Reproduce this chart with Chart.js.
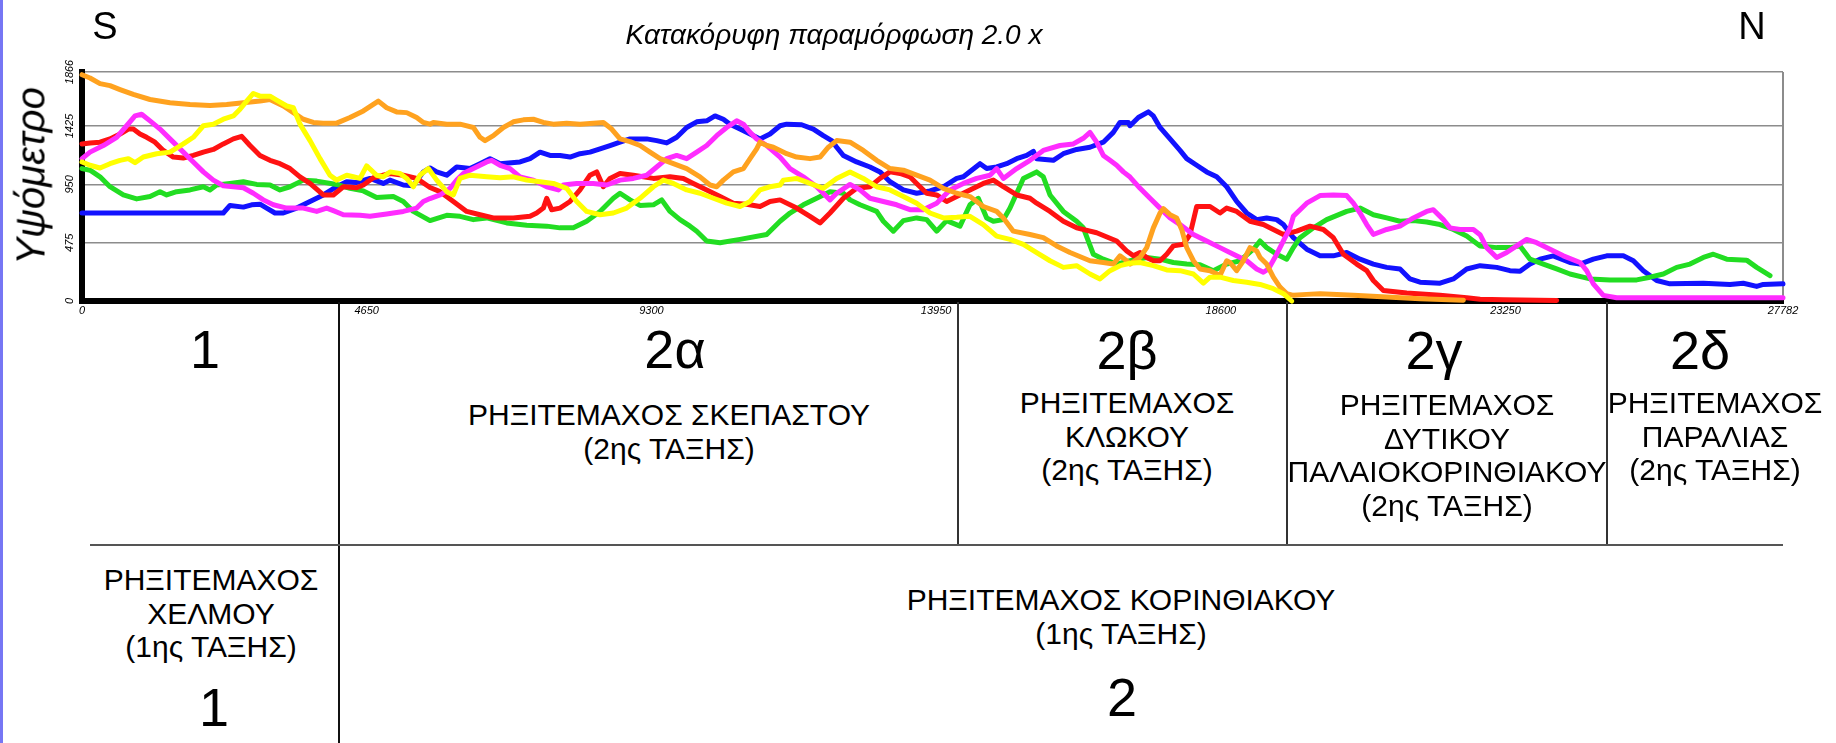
<!DOCTYPE html>
<html>
<head>
<meta charset="utf-8">
<script src="https://cdn.jsdelivr.net/npm/chart.js@4.4.1/dist/chart.umd.min.js"></script>
<style>
  body { margin: 0; background: #fff; width: 1836px; height: 743px; overflow: hidden; position: relative; font-family: "Liberation Sans Narrow", "Liberation Sans", sans-serif; color: #000; }
  #profil { position: absolute; left: 0; top: 0; }
  .txt { position: absolute; white-space: nowrap; text-align: center; transform: translateX(-50%); font-size: 30px; line-height: 33.5px; }
  .big { position: absolute; white-space: nowrap; transform: translate(-50%, -50%); font-size: 54px; line-height: 54px; }
  .linha { position: absolute; background: #333; }
</style>
</head>
<body>
<div style="position:absolute;left:0;top:0;width:3px;height:743px;background:#7676f4"></div>
<canvas id="profil" width="1836" height="330"></canvas>

<div style="position:absolute;left:105px;top:26px;transform:translate(-50%,-50%);font:38px 'Liberation Sans',sans-serif">S</div>
<div style="position:absolute;left:1752px;top:26px;transform:translate(-50%,-50%);font:38px 'Liberation Sans',sans-serif">N</div>
<div style="position:absolute;left:834px;top:35px;transform:translate(-50%,-50%);font:italic 28px 'Liberation Sans',sans-serif;white-space:nowrap">Κατακόρυφη παραμόρφωση 2.0 x</div>
<div style="position:absolute;left:31px;top:176px;transform:translate(-50%,-50%) rotate(-90deg);font:italic 40px 'Liberation Sans',sans-serif;white-space:nowrap">Υψόμετρο</div>

<!-- πίνακας ρηξιτεμαχών -->
<div class="linha" style="left:338px;top:302px;width:2px;height:441px;background:#111"></div>
<div class="linha" style="left:957px;top:302px;width:1.5px;height:243px"></div>
<div class="linha" style="left:1286px;top:302px;width:1.5px;height:243px"></div>
<div class="linha" style="left:1606px;top:302px;width:1.5px;height:243px"></div>
<div class="linha" style="left:90px;top:544px;width:1693px;height:2px;background:#555"></div>

<div class="big" style="left:205px;top:349px">1</div>
<div class="big" style="left:675px;top:349px">2α</div>
<div class="big" style="left:1127px;top:350px">2β</div>
<div class="big" style="left:1434px;top:350px">2γ</div>
<div class="big" style="left:1700px;top:350px">2δ</div>

<div class="txt" style="left:669px;top:398px">ΡΗΞΙΤΕΜΑΧΟΣ ΣΚΕΠΑΣΤΟΥ<br>(2ης ΤΑΞΗΣ)</div>
<div class="txt" style="left:1127px;top:386px">ΡΗΞΙΤΕΜΑΧΟΣ<br>ΚΛΩΚΟΥ<br>(2ης ΤΑΞΗΣ)</div>
<div class="txt" style="left:1447px;top:388px">ΡΗΞΙΤΕΜΑΧΟΣ<br>ΔΥΤΙΚΟΥ<br>ΠΑΛΑΙΟΚΟΡΙΝΘΙΑΚΟΥ<br>(2ης ΤΑΞΗΣ)</div>
<div class="txt" style="left:1715px;top:386px">ΡΗΞΙΤΕΜΑΧΟΣ<br>ΠΑΡΑΛΙΑΣ<br>(2ης ΤΑΞΗΣ)</div>

<div class="txt" style="left:211px;top:563px">ΡΗΞΙΤΕΜΑΧΟΣ<br>ΧΕΛΜΟΥ<br>(1ης ΤΑΞΗΣ)</div>
<div class="big" style="left:214px;top:707px">1</div>
<div class="txt" style="left:1121px;top:583px">ΡΗΞΙΤΕΜΑΧΟΣ ΚΟΡΙΝΘΙΑΚΟΥ<br>(1ης ΤΑΞΗΣ)</div>
<div class="big" style="left:1122px;top:697px">2</div>

<script>
// αποστάσεις (m) και υψόμετρα (m) κάθε τομής
var xTickValues = [0, 4650, 9300, 13950, 18600, 23250, 27782];
var yTickValues = [0, 475, 950, 1425, 1866];

var tomiBlue = [[0,717],[2308,717],[2417,779],[2635,765],[2771,784],[2907,789],[3016,757],[3152,717],[3288,717],[3506,757],[3724,811],[3941,864],[4159,931],[4323,972],[4486,966],[4704,999],[4921,958],[5030,985],[5248,945],[5411,939],[5575,1052],[5684,1084],[5793,1052],[5957,1025],[6120,1092],[6338,1079],[6501,1119],[6664,1160],[6828,1119],[7154,1133],[7318,1160],[7481,1213],[7644,1186],[7807,1186],[7971,1173],[8134,1200],[8297,1213],[8461,1240],[8624,1267],[8787,1294],[8951,1321],[9223,1321],[9386,1307],[9550,1288],[9713,1334],[9876,1414],[10040,1460],[10203,1468],[10339,1508],[10475,1481],[10584,1441],[10747,1401],[10911,1361],[11074,1321],[11237,1361],[11401,1428],[11509,1441],[11754,1436],[11945,1401],[12108,1347],[12244,1307],[12326,1253],[12435,1186],[12652,1133],[12870,1092],[13034,1052],[13197,972],[13415,905],[13632,878],[13850,897],[14068,931],[14286,999],[14395,1012],[14667,1119],[14776,1079],[14939,1092],[15102,1119],[15266,1160],[15429,1186],[15538,1219],[15592,1160],[15864,1146],[16028,1200],[16245,1235],[16463,1253],[16681,1294],[16844,1374],[16953,1455],[17089,1455],[17117,1428],[17253,1495],[17417,1541],[17498,1508],[17607,1414],[17771,1321],[17934,1227],[18043,1160],[18206,1106],[18369,1052],[18533,1012],[18696,931],[18859,811],[19023,717],[19186,663],[19349,677],[19513,663],[19622,623],[19785,516],[20003,422],[20220,368],[20438,368],[20656,395],[20874,341],[21091,301],[21309,274],[21527,261],[21690,180],[21854,153],[22180,145],[22398,180],[22616,261],[22834,288],[23106,274],[23323,247],[23487,242],[23650,301],[23813,341],[24031,368],[24303,314],[24467,301],[24684,341],[24902,368],[25174,368],[25338,328],[25501,247],[25719,167],[25936,140],[26481,145],[26916,135],[27134,145],[27352,119],[27461,135],[27782,140]];

var tomiGreen = [[0,1079],[131,1066],[294,1012],[457,931],[675,864],[893,832],[1111,851],[1274,891],[1383,864],[1546,891],[1764,905],[1982,931],[2090,905],[2199,945],[2417,958],[2635,972],[2853,950],[3070,945],[3234,905],[3397,931],[3615,985],[3833,977],[4159,950],[4377,918],[4595,897],[4812,843],[5085,851],[5248,811],[5411,730],[5684,655],[5957,698],[6174,690],[6392,663],[6610,677],[6936,636],[7263,618],[7590,610],[7807,596],[8025,596],[8243,650],[8461,730],[8678,837],[8787,878],[8951,824],[9114,779],[9332,784],[9468,824],[9604,730],[9767,663],[9931,610],[10040,569],[10203,489],[10421,475],[10747,502],[11183,542],[11401,650],[11564,717],[11781,784],[11999,837],[12217,891],[12435,878],[12544,824],[12707,784],[12979,730],[13088,650],[13251,569],[13415,655],[13632,677],[13796,663],[13959,569],[14122,655],[14340,610],[14503,784],[14639,837],[14776,677],[14885,650],[15048,663],[15157,757],[15375,999],[15592,1052],[15701,1012],[15810,864],[16028,730],[16245,650],[16354,596],[16518,381],[16681,341],[16899,301],[17117,328],[17390,355],[17607,341],[17825,314],[18043,301],[18261,296],[18478,247],[18696,301],[18914,328],[19132,422],[19240,489],[19349,435],[19513,381],[19676,341],[19785,435],[19894,516],[20112,596],[20329,663],[20656,730],[20874,757],[21091,703],[21309,677],[21527,650],[21745,655],[21962,644],[22180,623],[22398,583],[22616,529],[22834,449],[23106,435],[23323,435],[23487,449],[23650,341],[23868,301],[24085,261],[24303,220],[24630,180],[24956,172],[25392,172],[25610,194],[25828,220],[26045,274],[26263,301],[26481,355],[26644,381],[26862,341],[27188,333],[27352,274],[27570,207]];

var tomiRed = [[0,1280],[131,1288],[294,1294],[457,1321],[621,1361],[757,1401],[838,1401],[947,1361],[1056,1334],[1192,1294],[1328,1227],[1492,1173],[1655,1165],[1818,1186],[1982,1213],[2145,1235],[2308,1280],[2472,1321],[2608,1342],[2744,1267],[2907,1186],[3070,1146],[3234,1119],[3397,1079],[3560,1012],[3724,958],[3941,864],[4105,864],[4268,931],[4486,923],[4595,945],[4758,1004],[5030,1039],[5248,1025],[5466,999],[5684,925],[5848,891],[6065,811],[6283,730],[6501,703],[6719,677],[7045,677],[7318,690],[7426,717],[7535,757],[7590,837],[7671,744],[7807,757],[7971,811],[8134,905],[8297,1025],[8406,1052],[8515,931],[8624,999],[8787,1039],[9005,1025],[9332,999],[9604,1012],[9822,999],[9985,958],[10203,905],[10421,851],[10638,797],[10856,789],[11074,770],[11237,811],[11401,824],[11672,757],[11890,690],[12054,636],[12217,717],[12435,837],[12652,918],[12870,931],[13034,999],[13197,1052],[13360,1039],[13523,1012],[13632,958],[13796,878],[13959,864],[14122,811],[14286,851],[14503,905],[14721,958],[14885,985],[15048,931],[15266,864],[15483,837],[15592,797],[15810,730],[16028,650],[16245,596],[16572,556],[16899,489],[17063,408],[17172,368],[17281,395],[17390,355],[17498,328],[17607,328],[17716,381],[17825,449],[17988,462],[18097,542],[18206,770],[18424,770],[18587,717],[18696,757],[18859,730],[19077,650],[19295,623],[19458,583],[19622,542],[19839,569],[20057,610],[20275,583],[20438,516],[20602,381],[20819,301],[20983,247],[21091,167],[21255,86],[21636,65],[22180,46],[22616,27],[22834,14],[23214,10],[24085,4]];

var tomiMagenta = [[0,1160],[131,1213],[348,1267],[566,1334],[729,1428],[866,1508],[974,1522],[1111,1468],[1274,1401],[1437,1321],[1655,1213],[1818,1133],[1982,1052],[2145,985],[2308,939],[2635,923],[2798,878],[2962,824],[3125,784],[3343,757],[3615,757],[3833,730],[3996,757],[4105,736],[4268,703],[4540,698],[4704,690],[4976,709],[5248,730],[5466,757],[5575,811],[5684,835],[5848,864],[6011,918],[6120,985],[6229,1039],[6392,1079],[6610,1133],[6691,1146],[6828,1106],[6991,1079],[7154,1012],[7372,985],[7590,931],[7780,905],[7862,945],[8080,958],[8352,958],[8570,945],[8787,985],[9005,999],[9223,1025],[9386,1092],[9550,1160],[9713,1186],[9876,1160],[10040,1213],[10203,1267],[10366,1347],[10529,1414],[10693,1468],[10802,1441],[10911,1374],[11019,1321],[11183,1267],[11401,1173],[11564,1079],[11781,1012],[11999,931],[12217,824],[12326,878],[12544,950],[12707,905],[12870,837],[13088,811],[13306,784],[13523,744],[13741,744],[13959,797],[14177,905],[14395,958],[14612,999],[14830,1025],[14939,1079],[15048,999],[15266,1079],[15483,1146],[15701,1227],[15973,1267],[16191,1280],[16354,1326],[16463,1374],[16572,1294],[16681,1186],[16790,1146],[16899,1106],[17008,1052],[17117,1010],[17281,918],[17444,837],[17607,757],[17771,677],[17934,623],[18152,542],[18369,489],[18587,435],[18805,381],[19023,328],[19186,261],[19295,234],[19377,261],[19513,381],[19622,489],[19730,596],[19785,690],[20003,797],[20220,859],[20438,864],[20656,859],[20765,797],[20874,717],[20983,623],[21091,542],[21309,583],[21527,610],[21745,677],[21962,730],[22071,744],[22235,663],[22344,596],[22507,583],[22725,583],[22834,540],[22942,435],[23106,355],[23269,395],[23432,449],[23595,502],[23759,475],[23977,422],[24194,368],[24467,314],[24575,247],[24684,140],[24848,46],[25065,27],[27782,27]];

var tomiOrange = [[0,1844],[131,1817],[294,1771],[457,1755],[621,1723],[838,1683],[1111,1642],[1437,1616],[1764,1602],[2090,1594],[2363,1602],[2635,1616],[2907,1629],[3070,1642],[3288,1589],[3452,1535],[3615,1481],[3778,1455],[3941,1449],[4159,1449],[4377,1495],[4595,1549],[4758,1602],[4840,1629],[4976,1575],[5139,1541],[5303,1535],[5466,1495],[5575,1455],[5684,1441],[5739,1455],[5957,1441],[6174,1441],[6392,1414],[6501,1334],[6583,1307],[6719,1347],[6882,1414],[7045,1460],[7209,1476],[7372,1481],[7535,1455],[7698,1441],[7916,1449],[8134,1441],[8352,1449],[8515,1455],[8651,1401],[8787,1321],[8951,1299],[9114,1267],[9277,1213],[9441,1160],[9659,1119],[9876,1079],[10094,1012],[10257,945],[10366,931],[10475,985],[10638,1052],[10802,1079],[10911,1160],[11019,1240],[11074,1294],[11183,1267],[11292,1253],[11401,1227],[11509,1200],[11672,1173],[11890,1160],[12054,1173],[12190,1253],[12326,1307],[12544,1294],[12761,1227],[12979,1146],[13197,1079],[13415,1066],[13632,1025],[13850,985],[14068,918],[14286,878],[14503,851],[14721,770],[14939,730],[15048,677],[15211,569],[15483,542],[15701,516],[15919,449],[16137,395],[16463,328],[16681,314],[16844,301],[16953,368],[17062,328],[17117,301],[17281,355],[17390,435],[17498,596],[17607,717],[17662,752],[17771,703],[17879,677],[17961,583],[18043,435],[18152,328],[18261,261],[18424,247],[18587,207],[18696,328],[18750,314],[18859,247],[18968,328],[19077,435],[19186,408],[19240,355],[19349,301],[19458,194],[19567,113],[19676,60],[19785,46],[20003,54],[20220,60],[20765,46],[21309,33],[21854,19],[22561,6]];

var tomiYellow = [[0,1133],[131,1106],[294,1084],[457,1119],[621,1146],[757,1160],[866,1127],[1002,1173],[1219,1200],[1437,1213],[1655,1280],[1818,1334],[1982,1428],[2145,1441],[2308,1481],[2472,1508],[2581,1562],[2689,1629],[2798,1691],[2907,1669],[3070,1669],[3179,1637],[3343,1589],[3452,1575],[3560,1441],[3724,1307],[3887,1160],[4050,1025],[4159,985],[4323,1025],[4431,1012],[4540,999],[4649,1101],[4812,1025],[4921,1012],[5030,1052],[5194,1039],[5303,999],[5411,931],[5520,1025],[5657,1079],[5793,985],[5957,891],[6065,864],[6174,999],[6338,1025],[6610,1012],[6828,1004],[7045,1012],[7263,985],[7481,972],[7698,958],[7916,918],[8080,811],[8243,730],[8461,703],[8678,717],[8896,757],[9114,837],[9332,931],[9495,985],[9659,958],[9876,905],[10094,878],[10312,837],[10529,797],[10747,770],[10911,811],[11074,905],[11237,931],[11401,945],[11455,985],[11672,999],[11890,958],[12108,918],[12326,999],[12544,1052],[12761,999],[12979,931],[13197,905],[13415,851],[13632,797],[13850,717],[14068,677],[14286,682],[14503,690],[14721,623],[14939,529],[15157,502],[15375,462],[15592,395],[15810,328],[16028,274],[16245,288],[16463,220],[16627,180],[16790,247],[16953,288],[17117,308],[17281,314],[17498,288],[17716,253],[17934,247],[18152,220],[18315,145],[18424,194],[18587,194],[18805,167],[19023,153],[19240,135],[19458,100],[19622,60],[19758,0]];

// η πρώτη τομή σχεδιάζεται τελευταία (επάνω)
var tomes = [tomiYellow, tomiOrange, tomiMagenta, tomiRed, tomiGreen, tomiBlue];
var xromata = ["#ffff00", "#ffa21f", "#ff2cff", "#ff1212", "#22dd22", "#1212ff"];

function toPoints(arr)
{
    return arr.map(function (p) { return { x: p[0], y: p[1] }; });
}

var yLabelsPlugin = {
    id: 'yLabels',
    afterDraw: function (chart) {
        var ctx = chart.ctx;
        var scaleY = chart.scales.y;
        ctx.save();
        ctx.fillStyle = '#000';
        ctx.font = 'italic 11px "Liberation Sans Narrow", "Liberation Sans", sans-serif';
        ctx.textAlign = 'center';
        ctx.textBaseline = 'middle';
        yTickValues.forEach(function (v) {
            ctx.save();
            ctx.translate(70, scaleY.getPixelForValue(v));
            ctx.rotate(-Math.PI / 2);
            ctx.fillText(String(v), 0, 0);
            ctx.restore();
        });
        ctx.restore();
    }
};

var datasets = tomes.map(function (t, i) {
    return {
        data: toPoints(t),
        borderColor: xromata[i],
        borderWidth: 5,
        pointRadius: 0,
        tension: 0,
        fill: false,
        clip: false,
        borderJoinStyle: 'round',
        borderCapStyle: 'round'
    };
});

var ctxProfil = document.getElementById("profil");
var graficoProfil = new Chart(ctxProfil, {
    type: 'line',
    data: { datasets: datasets },
    plugins: [yLabelsPlugin],
    options: {
        responsive: false,
        animation: false,
        devicePixelRatio: 1,
        layout: { padding: { top: 72, right: 53, bottom: 0, left: 0 } },
        plugins: { legend: { display: false }, tooltip: { enabled: false } },
        scales: {
            x: {
                type: 'linear',
                min: 0,
                max: 27782,
                afterBuildTicks: function (s) { s.ticks = xTickValues.map(function (v) { return { value: v }; }); },
                afterFit: function (s) { s.height = 29; },
                ticks: {
                    autoSkip: false,
                    maxRotation: 0,
                    padding: 3,
                    color: '#000',
                    font: { family: '"Liberation Sans Narrow", "Liberation Sans", sans-serif', size: 11, style: 'italic' },
                    callback: function (v) { return String(v); }
                },
                grid: {
                    drawTicks: false,
                    lineWidth: 2,
                    color: function (c) { return c.tick && c.tick.value === 27782 ? '#8c8c8c' : 'rgba(0,0,0,0)'; }
                },
                border: { color: '#000', width: 6 }
            },
            y: {
                min: 0,
                max: 1866,
                afterBuildTicks: function (s) { s.ticks = yTickValues.map(function (v) { return { value: v }; }); },
                afterFit: function (s) { s.width = 82; },
                ticks: { display: false },
                grid: {
                    drawTicks: false,
                    lineWidth: 1.5,
                    color: function (c) { return c.tick && c.tick.value === 0 ? 'rgba(0,0,0,0)' : '#8c8c8c'; }
                },
                border: { color: '#000', width: 6 }
            }
        }
    }
});
</script>
</body>
</html>
